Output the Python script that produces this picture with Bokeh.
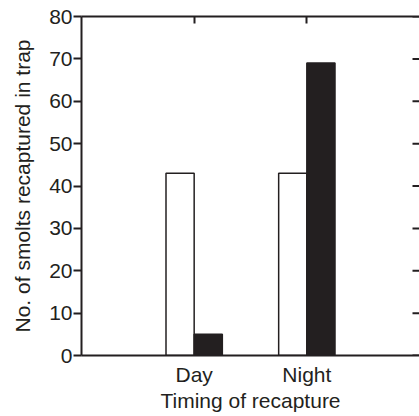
from bokeh.plotting import figure
from bokeh.models import (FactorRange, Range1d, LinearAxis, CategoricalAxis, ColumnDataSource,
                          FixedTicker, CustomJSTickFormatter)
from bokeh.transform import dodge
from bokeh.embed import file_html
from bokeh.resources import INLINE

categories = ["Day", "Night"]
white_values = [43, 43]
black_values = [5, 69]
y_ticks = [0, 10, 20, 30, 40, 50, 60, 70, 80]

INK = "#231f20"
FONT = "Liberation Sans"
FS = "21px"
PAD = 0.5

src = ColumnDataSource(dict(cat=categories, white=white_values, black=black_values))
tick_src = ColumnDataSource(dict(y=y_ticks, cat=[categories[-1]] * len(y_ticks)))

p = figure(width=419, height=416, output_backend="svg", toolbar_location=None,
           x_range=FactorRange(factors=categories, range_padding=PAD, range_padding_units="absolute"),
           y_range=Range1d(0, 80), x_axis_location=None, y_axis_location=None,
           min_border_left=81, min_border_right=0, min_border_top=16, min_border_bottom=61)
p.grid.visible = False
p.outline_line_color = None
p.background_fill_color = "white"
p.border_fill_color = "white"

p.vbar(x=dodge("cat", -0.125, range=p.x_range), top="white", width=0.25, source=src,
       fill_color="white", line_color=INK, line_width=1.5)
p.vbar(x=dodge("cat", 0.125, range=p.x_range), top="black", width=0.25, source=src,
       fill_color=INK, line_color=INK, line_width=1.5)

# inward ticks of the (cropped) right-hand axis, centred on the frame's right edge
p.scatter(x=dodge("cat", 0.5 + PAD, range=p.x_range), y="y", source=tick_src, marker="dash",
          size=14, line_color=INK, line_width=2)

def style(ax):
    ax.axis_line_color = INK
    ax.axis_line_width = 2
    ax.major_tick_line_color = INK
    ax.major_tick_line_width = 2
    ax.minor_tick_line_color = None
    ax.major_label_text_font = FONT
    ax.major_label_text_font_size = FS
    ax.major_label_text_color = INK
    ax.axis_label_text_font = FONT
    ax.axis_label_text_font_size = FS
    ax.axis_label_text_color = INK
    ax.axis_label_text_font_style = "normal"

left = LinearAxis(ticker=FixedTicker(ticks=y_ticks), axis_label="No. of smolts recaptured in trap")
style(left)
left.major_tick_out = 8
left.major_tick_in = 0
left.major_label_standoff = 1
left.axis_label_standoff = 12
p.add_layout(left, "left")

bottom = CategoricalAxis(axis_label="Timing of recapture")
style(bottom)
bottom.major_tick_line_color = None
bottom.major_tick_out = 0
bottom.major_tick_in = 0
bottom.major_label_standoff = 7
bottom.axis_label_standoff = 0
p.add_layout(bottom, "below")

top = CategoricalAxis(formatter=CustomJSTickFormatter(code="return ''"))
style(top)
top.major_tick_out = 0
top.major_tick_in = 7
top.major_label_standoff = 0
p.add_layout(top, "above")

open("out.html", "w").write(file_html(p, INLINE))
